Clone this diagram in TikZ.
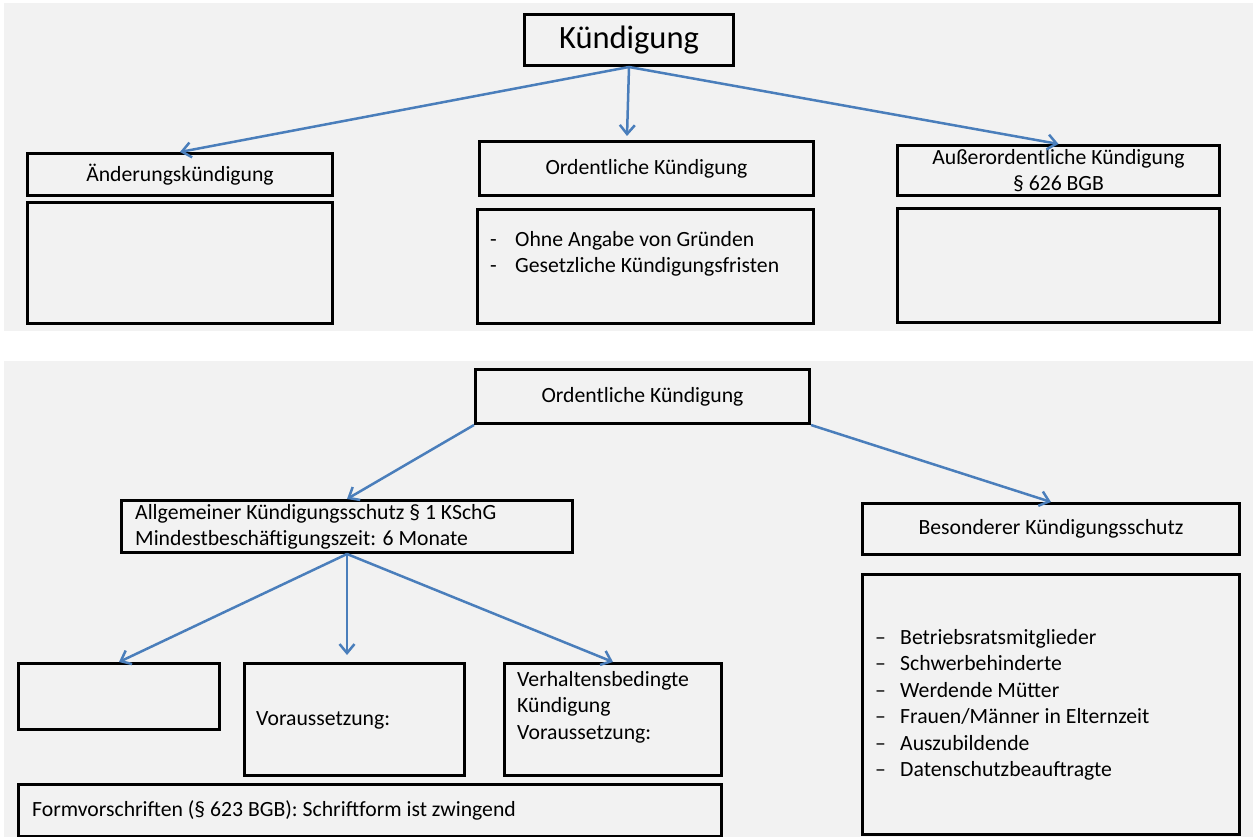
\documentclass[tikz,border=0pt]{standalone}
\usepackage{fontspec}
\setmainfont{Carlito}
\usetikzlibrary{arrows.meta,calc}
\definecolor{panel}{HTML}{F2F2F2}
\definecolor{arrowblue}{HTML}{4A7EBB}
\newcommand\mybox[6]{\node[box, minimum width=#4pt-#2pt, minimum height=#5pt-#3pt] (#1) at (#2,#3) {#6};}
\begin{document}
\begin{tikzpicture}[x=1pt,y=-1pt,
  box/.style={draw=black, line width=3pt, inner sep=0pt, anchor=north west, align=center,
    font=\fontsize{21.7}{26.5}\selectfont},
  arr/.style={draw=arrowblue, line width=2.5pt, -{Straight Barb[length=9pt,width=15pt]}},
  txt/.style={inner sep=0pt, anchor=west, align=left, font=\fontsize{21.7}{26.5}\selectfont}
]
\useasboundingbox (0,0) rectangle (1253,837);
\fill[panel] (4,3) rectangle (1253,331);
\fill[panel] (4,361) rectangle (1253,837);

% top panel
\mybox{k}{523}{13}{732}{64}{\fontsize{32.5}{38}\selectfont Kündigung}
\mybox{ae}{26}{152}{331}{194}{Änderungskündigung}
\mybox{aeb}{26}{201.5}{331}{322}{}
\mybox{ok}{478}{140}{812}{194}{Ordentliche Kündigung}
\mybox{okb}{476}{208}{812}{322}{}
\node[txt] (okl) at (490,254) {\makebox[25pt][l]{-}Ohne Angabe von Gründen\\\makebox[25pt][l]{-}Gesetzliche Kündigungsfristen};
\mybox{ao}{896}{144}{1218}{194}{Außerordentliche Kündigung\\§ 626 BGB}
\mybox{aob}{896}{207}{1218}{321}{}

\draw[arr] (k.south) -- (ae.north);
\draw[arr] (k.south) -- ($(ok.north west)+(149,-4)$);
\draw[arr] (k.south) -- (ao.north);

% bottom panel
\mybox{ok2}{474}{368}{808}{422}{Ordentliche Kündigung}
\mybox{ak}{120}{499}{571}{551}{}
\node[txt] (akt) at (135,527) {Allgemeiner Kündigungsschutz § 1 KSchG\\Mindestbeschäftigungszeit: 6 Monate};
\mybox{bk}{861}{502}{1238}{553}{Besonderer Kündigungsschutz}
\mybox{bl}{861}{573}{1238}{833}{}
\node[txt] (blt) at (875,705) {\makebox[25pt][l]{–}Betriebsratsmitglieder\\\makebox[25pt][l]{–}Schwerbehinderte\\\makebox[25pt][l]{–}Werdende Mütter\\\makebox[25pt][l]{–}Frauen/Männer in Elternzeit\\\makebox[25pt][l]{–}Auszubildende\\\makebox[25pt][l]{–}Datenschutzbeauftragte};
\mybox{e1}{17}{662}{218}{728}{}
\mybox{vo}{243}{662}{463}{774}{}
\node[txt] (vot) at (256,720) {Voraussetzung:};
\mybox{vb}{503}{662}{720}{774}{}
\node[txt] (vbt) at (517,707) {Verhaltensbedingte\\Kündigung\\Voraussetzung:};
\mybox{fv}{17}{783}{720}{835}{}
\node[txt] (fvt) at (32,810) {Formvorschriften (§ 623 BGB): Schriftform ist zwingend};

\draw[arr] (ok2.south west) -- (ak.north);
\draw[arr] (ok2.south east) -- (bk.north);
\draw[arr] (ak.south) -- (e1.north);
\draw[arr] (ak.south) -- ($(ak.south)+(0,101)$);
\draw[arr] (ak.south) -- (vb.north);
\end{tikzpicture}
\end{document}
